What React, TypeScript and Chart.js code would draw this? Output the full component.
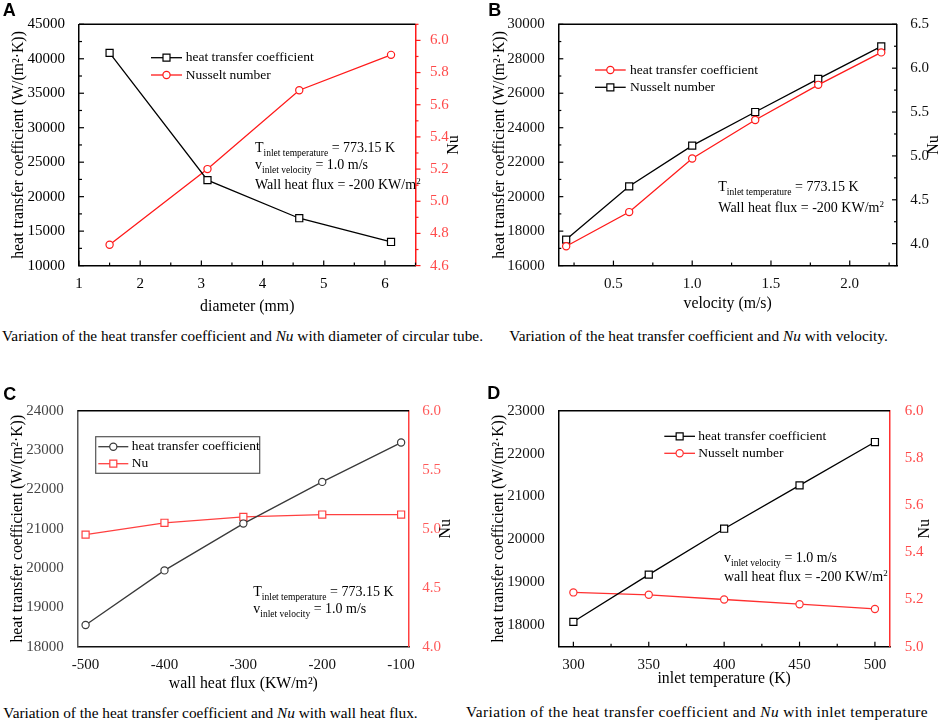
import { useEffect, useRef } from 'react';
import type { ReactNode } from 'react';
import { Chart, registerables } from 'chart.js';
import type { ChartConfiguration, Plugin } from 'chart.js';

Chart.register(...registerables);

const SERIF = "'Liberation Serif', 'Times New Roman', serif";
const SANS = "'Liberation Sans', Arial, sans-serif";
const RED = '#ff1a1a';
const RED_LABEL = '#ff4a4a';

Chart.defaults.font.family = SERIF;
Chart.defaults.font.size = 15;

// A: diameter of circular tube
const aDiameter = [1.5, 3.1, 4.6, 6.1];
const aHtc = [40850, 22400, 16870, 13430];
const aNu = [4.73, 5.2, 5.69, 5.91];
const aXTicks = [1, 2, 3, 4, 5, 6];
const aYTicks = [10000, 15000, 20000, 25000, 30000, 35000, 40000, 45000];
const aY1Ticks = [4.6, 4.8, 5.0, 5.2, 5.4, 5.6, 5.8, 6.0];

// B: velocity
const bVelocity = [0.2, 0.6, 1.0, 1.4, 1.8, 2.2];
const bHtc = [17510, 20600, 22960, 24910, 26830, 28720];
const bNu = [3.97, 4.36, 4.97, 5.41, 5.81, 6.18];
const bXTicks = [0.5, 1.0, 1.5, 2.0];
const bYTicks = [16000, 18000, 20000, 22000, 24000, 26000, 28000, 30000];
const bY1Ticks = [4.0, 4.5, 5.0, 5.5, 6.0, 6.5];

// C: wall heat flux
const cFlux = [-500, -400, -300, -200, -100];
const cHtc = [18550, 19940, 21130, 22190, 23190];
const cNu = [4.95, 5.05, 5.1, 5.12, 5.12];
const cXTicks = [-500, -400, -300, -200, -100];
const cYTicks = [18000, 19000, 20000, 21000, 22000, 23000, 24000];
const cY1Ticks = [4.0, 4.5, 5.0, 5.5, 6.0];

// D: inlet temperature
const dTemp = [300, 350, 400, 450, 500];
const dHtc = [18080, 19180, 20250, 21260, 22270];
const dNu = [5.23, 5.22, 5.2, 5.18, 5.16];
const dXTicks = [300, 350, 400, 450, 500];
const dYTicks = [18000, 19000, 20000, 21000, 22000, 23000];
const dY1Ticks = [5.0, 5.2, 5.4, 5.6, 5.8, 6.0];

const HTC_TITLE = 'heat transfer coefficient (W/(m\u00b2\u00b7K))';

interface Series {
  label: string;
  xs: number[];
  ys: number[];
  axis: 'y' | 'y1';
  color: string;
  marker: 'rect' | 'circle';
}

interface AxisSpec {
  min: number;
  max: number;
  ticks: number[];
  digits: number;
  color: string;
  labelColor: string;
  pad: number;
  size: number;
  title?: string;
  titlePad?: number;
  marks?: 'in' | 'out';
}

interface PanelSpec {
  left: number;
  top: number;
  width: number;
  height: number;
  padTop: number;
  x: AxisSpec;
  y: AxisSpec;
  y1: AxisSpec;
  series: Series[];
  legend: { x1: number; x2: number; tx: number; rows: number[]; box?: number[] };
  nuX: number;
  topColor: string;
}

function decor(p: PanelSpec): Plugin<'line'> {
  return {
    id: 'decor',
    afterDraw(chart) {
      const { ctx, chartArea: a } = chart;
      ctx.save();
      ctx.strokeStyle = p.topColor;
      ctx.lineWidth = 1.5;
      ctx.beginPath();
      ctx.moveTo(a.left, a.top);
      ctx.lineTo(a.right, a.top);
      ctx.stroke();

      (['x', 'y', 'y1'] as const).forEach((id) => {
        const ax = p[id];
        if (!ax.marks) return;
        const s = chart.scales[id];
        const step = ax.ticks[1] - ax.ticks[0];
        const minors = [ax.ticks[0] - step / 2, ...ax.ticks.map((v) => v + step / 2)].filter(
          (v) => v >= ax.min && v <= ax.max,
        );
        const sign = ax.marks === 'in' ? 1 : -1;
        ctx.strokeStyle = ax.color;
        ctx.lineWidth = 1.2;
        const mark = (v: number, len: number) => {
          const px = s.getPixelForValue(v);
          ctx.beginPath();
          if (id === 'x') {
            ctx.moveTo(px, a.bottom);
            ctx.lineTo(px, a.bottom - sign * len);
          } else if (id === 'y') {
            ctx.moveTo(a.left, px);
            ctx.lineTo(a.left + sign * len, px);
          } else {
            ctx.moveTo(a.right, px);
            ctx.lineTo(a.right - sign * len, px);
          }
          ctx.stroke();
        };
        ax.ticks.forEach((v) => mark(v, 5));
        minors.forEach((v) => mark(v, 3));
      });

      // legend
      const lg = p.legend;
      if (lg.box) {
        ctx.strokeStyle = '#555';
        ctx.lineWidth = 1.2;
        ctx.strokeRect(lg.box[0], lg.box[1], lg.box[2] - lg.box[0], lg.box[3] - lg.box[1]);
      }
      chart.data.datasets.forEach((ds, i) => {
        const s = p.series[i];
        const y = lg.rows[i];
        const cx = (lg.x1 + lg.x2) / 2;
        ctx.strokeStyle = s.color;
        ctx.lineWidth = 1.3;
        ctx.beginPath();
        ctx.moveTo(lg.x1, y);
        ctx.lineTo(lg.x2, y);
        ctx.stroke();
        ctx.fillStyle = '#fff';
        ctx.lineWidth = 1.2;
        ctx.beginPath();
        if (s.marker === 'rect') ctx.rect(cx - 3.5, y - 3.5, 7, 7);
        else ctx.arc(cx, y, 3.6, 0, Math.PI * 2);
        ctx.fill();
        ctx.stroke();
        ctx.fillStyle = '#000';
        ctx.font = `13.5px ${SERIF}`;
        ctx.textAlign = 'left';
        ctx.textBaseline = 'middle';
        ctx.fillText(String(ds.label), lg.tx, y);
      });

      // right axis title, read bottom to top
      ctx.translate(p.nuX, (a.top + a.bottom) / 2);
      ctx.rotate(-Math.PI / 2);
      ctx.font = `16px ${SERIF}`;
      ctx.fillStyle = '#000';
      ctx.textAlign = 'center';
      ctx.textBaseline = 'middle';
      ctx.fillText('Nu', 0, 0);
      ctx.restore();
    },
  };
}

function axisOpts(ax: AxisSpec, position: 'bottom' | 'left' | 'right') {
  return {
    type: 'linear' as const,
    position,
    min: ax.min,
    max: ax.max,
    bounds: 'data' as const,
    grid: { display: false },
    border: { display: true, color: ax.color, width: 1.5 },
    afterBuildTicks: (s: any) => {
      s.ticks = ax.ticks.map((v) => ({ value: v }));
    },
    afterFit: (s: any) => {
      if (position === 'bottom') s.height = ax.size;
      else s.width = ax.size;
    },
    ticks: {
      color: ax.labelColor,
      padding: ax.pad,
      maxRotation: 0,
      autoSkip: false,
      font: { family: SERIF, size: 15 },
      callback: (v: any) => Number(v).toFixed(ax.digits),
    },
    title: ax.title
      ? {
          display: true,
          text: ax.title,
          color: '#000',
          font: { family: SERIF, size: 15.8 },
          padding: { top: ax.titlePad, bottom: ax.titlePad },
        }
      : { display: false },
  };
}

function buildConfig(p: PanelSpec): ChartConfiguration<'line'> {
  return {
    type: 'line',
    data: {
      datasets: p.series.map((s) => ({
        label: s.label,
        data: s.xs.map((x, i) => ({ x, y: s.ys[i] })),
        xAxisID: 'x',
        yAxisID: s.axis,
        borderColor: s.color,
        backgroundColor: '#fff',
        borderWidth: 1.3,
        pointStyle: s.marker,
        pointRadius: s.marker === 'rect' ? 5 : 3.6,
        pointBorderColor: s.color,
        pointBackgroundColor: '#fff',
        pointBorderWidth: 1.2,
        tension: 0,
        fill: false,
      })),
    },
    options: {
      animation: false,
      responsive: true,
      maintainAspectRatio: false,
      layout: { padding: { top: p.padTop, left: 0, right: 0, bottom: 0 } },
      plugins: { legend: { display: false }, tooltip: { enabled: false } },
      scales: {
        x: axisOpts(p.x, 'bottom'),
        y: axisOpts(p.y, 'left'),
        y1: axisOpts(p.y1, 'right'),
      } as any,
    },
    plugins: [decor(p)],
  };
}

const panelA: PanelSpec = {
  left: 0, top: 0, width: 470, height: 325, padTop: 24.3,
  x: { min: 1, max: 6.5, ticks: aXTicks, digits: 0, color: '#000', labelColor: '#000', pad: 1, size: 59.4, title: 'diameter (mm)', titlePad: 8.2, marks: 'in' },
  y: { min: 10000, max: 45000, ticks: aYTicks, digits: 0, color: '#000', labelColor: '#000', pad: 6, size: 79, title: HTC_TITLE, titlePad: 9.5, marks: 'in' },
  y1: { min: 4.6, max: 6.1, ticks: aY1Ticks, digits: 1, color: RED, labelColor: RED_LABEL, pad: 6.5, size: 54.5, marks: 'out' },
  series: [
    { label: 'heat transfer coefficient', xs: aDiameter, ys: aHtc, axis: 'y', color: '#000', marker: 'rect' },
    { label: 'Nusselt number', xs: aDiameter, ys: aNu, axis: 'y1', color: RED, marker: 'circle' },
  ],
  legend: { x1: 151, x2: 182, tx: 185.7, rows: [57.7, 75] },
  nuX: 454,
  topColor: '#000',
};

const panelB: PanelSpec = {
  left: 470, top: 0, width: 471, height: 325, padTop: 24.3,
  x: { min: 0.15, max: 2.3, ticks: bXTicks, digits: 1, color: '#000', labelColor: '#111', pad: 1, size: 59.4, title: 'velocity (m/s)', titlePad: 11.2, marks: 'in' },
  y: { min: 16000, max: 30000, ticks: bYTicks, digits: 0, color: '#000', labelColor: '#111', pad: 5.6, size: 88.3, title: HTC_TITLE, titlePad: 20.5, marks: 'in' },
  y1: { min: 3.75, max: 6.5, ticks: bY1Ticks, digits: 1, color: '#000', labelColor: '#111', pad: 5.3, size: 44, marks: 'in' },
  series: [
    { label: 'heat transfer coefficient', xs: bVelocity, ys: bNu, axis: 'y1', color: RED, marker: 'circle' },
    { label: 'Nusselt number', xs: bVelocity, ys: bHtc, axis: 'y', color: '#000', marker: 'rect' },
  ],
  legend: { x1: 125, x2: 155.7, tx: 160, rows: [70, 87.3] },
  nuX: 464,
  topColor: '#000',
};

const panelC: PanelSpec = {
  left: 0, top: 360, width: 470, height: 340, padTop: 50.7,
  x: { min: -510, max: -90, ticks: cXTicks, digits: 0, color: '#111', labelColor: '#111', pad: 1.6, size: 53.3, title: 'wall heat flux (KW/m\u00b2)', titlePad: 6.2 },
  y: { min: 18000, max: 24000, ticks: cYTicks, digits: 0, color: '#555', labelColor: '#444', pad: 6, size: 77.7, title: HTC_TITLE, titlePad: 8.8 },
  y1: { min: 4.0, max: 6.0, ticks: cY1Ticks, digits: 1, color: '#ff4040', labelColor: '#ff5a5a', pad: 5.3, size: 61 },
  series: [
    { label: 'heat transfer coefficient', xs: cFlux, ys: cHtc, axis: 'y', color: '#3a3a3a', marker: 'circle' },
    { label: 'Nu', xs: cFlux, ys: cNu, axis: 'y1', color: '#ff4040', marker: 'rect' },
  ],
  legend: { x1: 98.3, x2: 128.3, tx: 131.7, rows: [86.7, 103.7], box: [95.7, 76.7, 259.7, 113.3] },
  nuX: 445.7,
  topColor: '#000',
};

const panelD: PanelSpec = {
  left: 470, top: 360, width: 471, height: 340, padTop: 50.7,
  x: { min: 290, max: 510, ticks: dXTicks, digits: 0, color: '#000', labelColor: '#111', pad: 1.3, size: 53.3, title: 'inlet temperature (K)', titlePad: 11.2, marks: 'in' },
  y: { min: 17500, max: 23000, ticks: dYTicks, digits: 0, color: '#000', labelColor: '#111', pad: 5.6, size: 88.3, title: HTC_TITLE, titlePad: 19.8 },
  y1: { min: 5.0, max: 6.0, ticks: dY1Ticks, digits: 1, color: '#ff3030', labelColor: RED_LABEL, pad: 6.7, size: 51 },
  series: [
    { label: 'heat transfer coefficient', xs: dTemp, ys: dHtc, axis: 'y', color: '#000', marker: 'rect' },
    { label: 'Nusselt number', xs: dTemp, ys: dNu, axis: 'y1', color: '#ff3030', marker: 'circle' },
  ],
  legend: { x1: 194.3, x2: 225, tx: 228.3, rows: [76.3, 93.3] },
  nuX: 455,
  topColor: '#000',
};

function Panel({ p }: { p: PanelSpec }) {
  const canvasRef = useRef<HTMLCanvasElement>(null);
  useEffect(() => {
    if (!canvasRef.current) return;
    const chart = new Chart(canvasRef.current, buildConfig(p));
    return () => chart.destroy();
  }, [p]);
  return (
    <div style={{ position: 'absolute', left: p.left, top: p.top, width: p.width, height: p.height }}>
      <canvas ref={canvasRef} />
    </div>
  );
}

const Sub = ({ children }: { children: ReactNode }) => (
  <span style={{ fontSize: 9.5, position: 'relative', top: 4 }}>{children}</span>
);
const Sup = ({ children }: { children: ReactNode }) => (
  <span style={{ fontSize: 9, position: 'relative', top: -5 }}>{children}</span>
);

function Text({
  x, base, size = 14, spacing = 0, children,
}: { x: number; base: number; size?: number; spacing?: number; children: ReactNode }) {
  return (
    <div
      style={{
        position: 'absolute',
        left: x,
        top: base - size * 0.93,
        fontFamily: SERIF,
        fontSize: size,
        letterSpacing: spacing,
        lineHeight: `${size * 1.185}px`,
        whiteSpace: 'nowrap',
        color: '#000',
      }}
    >
      {children}
    </div>
  );
}

function Letter({ x, base, children }: { x: number; base: number; children: ReactNode }) {
  return (
    <div
      style={{
        position: 'absolute',
        left: x,
        top: base - 16.3,
        fontFamily: SANS,
        fontWeight: 'bold',
        fontSize: 18,
        lineHeight: '20px',
        color: '#000',
      }}
    >
      {children}
    </div>
  );
}

const tInlet = (
  <>
    T<Sub>inlet temperature</Sub> = 773.15 K
  </>
);
const vInlet = (
  <>
    v<Sub>inlet velocity</Sub> = 1.0 m/s
  </>
);

export default function App() {
  return (
    <div style={{ position: 'absolute', left: 0, top: 0, width: 941, height: 726, background: '#fff', overflow: 'hidden' }}>
      <Panel p={panelA} />
      <Panel p={panelB} />
      <Panel p={panelC} />
      <Panel p={panelD} />

      <Letter x={2.7} base={16.7}>A</Letter>
      <Letter x={488.3} base={16.7}>B</Letter>
      <Letter x={3.3} base={400}>C</Letter>
      <Letter x={487.3} base={399.3}>D</Letter>

      <Text x={255} base={152.7}>{tInlet}</Text>
      <Text x={255} base={170}>{vInlet}</Text>
      <Text x={255} base={190}>Wall heat flux = -200 KW/m<Sup>2</Sup></Text>

      <Text x={718.3} base={191.7}>{tInlet}</Text>
      <Text x={718.3} base={213.3}>Wall heat flux = -200 KW/m<Sup>2</Sup></Text>

      <Text x={253.3} base={597.3}>{tInlet}</Text>
      <Text x={253.3} base={614}>{vInlet}</Text>

      <Text x={724} base={563.3}>{vInlet}</Text>
      <Text x={724} base={581.7}>wall heat flux = -200 KW/m<Sup>2</Sup></Text>

      <Text x={2} base={341.5} size={15.3}>
        Variation of the heat transfer coefficient and <i>Nu</i> with diameter of circular tube.
      </Text>
      <Text x={509.3} base={341.5} size={15.3}>
        Variation of the heat transfer coefficient and <i>Nu</i> with velocity.
      </Text>
      <Text x={3.3} base={718} size={15.3}>
        Variation of the heat transfer coefficient and <i>Nu</i> with wall heat flux.
      </Text>
      <Text x={466} base={717.5} size={15.3} spacing={0.44}>
        Variation of the heat transfer coefficient and <i>Nu</i> with inlet temperature
      </Text>
    </div>
  );
}
